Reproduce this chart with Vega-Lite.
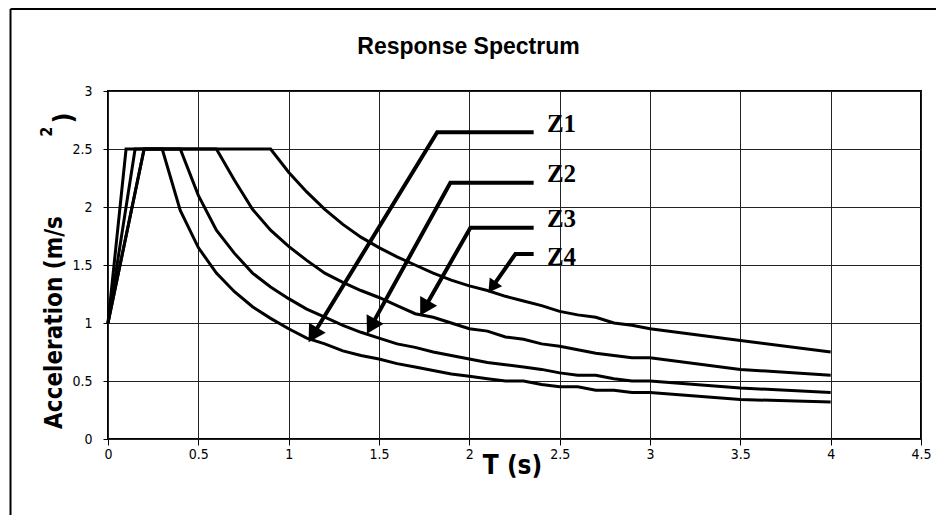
{
  "$schema": "https://vega.github.io/schema/vega-lite/v6.json",
  "autosize": {"type": "none"},
  "width": 813,
  "height": 348,
  "padding": {"left": 108, "top": 91, "right": 15, "bottom": 76},
  "background": "white",
  "title": {
    "text": "Response Spectrum",
    "font": "Liberation Sans",
    "fontSize": 23,
    "fontWeight": "bold",
    "color": "#000",
    "anchor": "middle",
    "frame": "group",
    "dx": -46,
    "dy": 69,
    "offset": 0,
    "baseline": "alphabetic"
  },
  "config": {
    "view": {"stroke": "#000", "strokeWidth": 2},
    "axis": {
      "labelFont": "Liberation Sans Narrow, Arial Narrow, DejaVu Sans Condensed, sans-serif",
      "labelFontSize": 14,
      "labelColor": "#000",
      "tickColor": "#000",
      "gridColor": "#222",
      "gridWidth": 1,
      "domain": false,
      "titleFont": "Liberation Sans Narrow, Arial Narrow, DejaVu Sans Condensed, sans-serif",
      "titleFontWeight": "bold",
      "titleColor": "#000"
    }
  },
  "datasets": {
    "curves": [
      {"z": "Z1", "T": 0, "A": 1}, {"z": "Z1", "T": 0.1, "A": 2.5}, {"z": "Z1", "T": 0.3, "A": 2.5},
      {"z": "Z1", "T": 0.4, "A": 1.97}, {"z": "Z1", "T": 0.5, "A": 1.65}, {"z": "Z1", "T": 0.6, "A": 1.43},
      {"z": "Z1", "T": 0.7, "A": 1.27}, {"z": "Z1", "T": 0.8, "A": 1.14}, {"z": "Z1", "T": 0.9, "A": 1.04},
      {"z": "Z1", "T": 1.0, "A": 0.95}, {"z": "Z1", "T": 1.1, "A": 0.87}, {"z": "Z1", "T": 1.2, "A": 0.82},
      {"z": "Z1", "T": 1.3, "A": 0.76}, {"z": "Z1", "T": 1.4, "A": 0.72}, {"z": "Z1", "T": 1.5, "A": 0.69},
      {"z": "Z1", "T": 1.6, "A": 0.65}, {"z": "Z1", "T": 1.7, "A": 0.62}, {"z": "Z1", "T": 1.8, "A": 0.59},
      {"z": "Z1", "T": 1.9, "A": 0.56}, {"z": "Z1", "T": 2.0, "A": 0.54}, {"z": "Z1", "T": 2.1, "A": 0.52},
      {"z": "Z1", "T": 2.2, "A": 0.5}, {"z": "Z1", "T": 2.3, "A": 0.5}, {"z": "Z1", "T": 2.4, "A": 0.47},
      {"z": "Z1", "T": 2.5, "A": 0.45}, {"z": "Z1", "T": 2.6, "A": 0.45}, {"z": "Z1", "T": 2.7, "A": 0.42},
      {"z": "Z1", "T": 2.8, "A": 0.42}, {"z": "Z1", "T": 2.9, "A": 0.4}, {"z": "Z1", "T": 3.0, "A": 0.4},
      {"z": "Z1", "T": 3.5, "A": 0.34}, {"z": "Z1", "T": 4.0, "A": 0.32},

      {"z": "Z2", "T": 0, "A": 1}, {"z": "Z2", "T": 0.15, "A": 2.5}, {"z": "Z2", "T": 0.4, "A": 2.5},
      {"z": "Z2", "T": 0.5, "A": 2.1}, {"z": "Z2", "T": 0.6, "A": 1.8}, {"z": "Z2", "T": 0.7, "A": 1.6},
      {"z": "Z2", "T": 0.8, "A": 1.43}, {"z": "Z2", "T": 0.9, "A": 1.31}, {"z": "Z2", "T": 1.0, "A": 1.21},
      {"z": "Z2", "T": 1.1, "A": 1.12}, {"z": "Z2", "T": 1.2, "A": 1.05}, {"z": "Z2", "T": 1.3, "A": 0.98},
      {"z": "Z2", "T": 1.4, "A": 0.92}, {"z": "Z2", "T": 1.5, "A": 0.87}, {"z": "Z2", "T": 1.6, "A": 0.82},
      {"z": "Z2", "T": 1.7, "A": 0.79}, {"z": "Z2", "T": 1.8, "A": 0.75}, {"z": "Z2", "T": 1.9, "A": 0.72},
      {"z": "Z2", "T": 2.0, "A": 0.69}, {"z": "Z2", "T": 2.1, "A": 0.66}, {"z": "Z2", "T": 2.2, "A": 0.64},
      {"z": "Z2", "T": 2.3, "A": 0.62}, {"z": "Z2", "T": 2.4, "A": 0.6}, {"z": "Z2", "T": 2.5, "A": 0.57},
      {"z": "Z2", "T": 2.6, "A": 0.55}, {"z": "Z2", "T": 2.7, "A": 0.55}, {"z": "Z2", "T": 2.8, "A": 0.52},
      {"z": "Z2", "T": 2.9, "A": 0.5}, {"z": "Z2", "T": 3.0, "A": 0.5}, {"z": "Z2", "T": 3.5, "A": 0.44},
      {"z": "Z2", "T": 4.0, "A": 0.4},

      {"z": "Z3", "T": 0, "A": 1}, {"z": "Z3", "T": 0.2, "A": 2.5}, {"z": "Z3", "T": 0.6, "A": 2.5},
      {"z": "Z3", "T": 0.7, "A": 2.23}, {"z": "Z3", "T": 0.8, "A": 1.98}, {"z": "Z3", "T": 0.9, "A": 1.8},
      {"z": "Z3", "T": 1.0, "A": 1.66}, {"z": "Z3", "T": 1.1, "A": 1.54}, {"z": "Z3", "T": 1.2, "A": 1.43},
      {"z": "Z3", "T": 1.3, "A": 1.35}, {"z": "Z3", "T": 1.4, "A": 1.28}, {"z": "Z3", "T": 1.5, "A": 1.22},
      {"z": "Z3", "T": 1.6, "A": 1.15}, {"z": "Z3", "T": 1.7, "A": 1.08}, {"z": "Z3", "T": 1.8, "A": 1.05},
      {"z": "Z3", "T": 1.9, "A": 1.0}, {"z": "Z3", "T": 2.0, "A": 0.95}, {"z": "Z3", "T": 2.1, "A": 0.93},
      {"z": "Z3", "T": 2.2, "A": 0.88}, {"z": "Z3", "T": 2.3, "A": 0.86}, {"z": "Z3", "T": 2.4, "A": 0.82},
      {"z": "Z3", "T": 2.5, "A": 0.8}, {"z": "Z3", "T": 2.6, "A": 0.77}, {"z": "Z3", "T": 2.7, "A": 0.74},
      {"z": "Z3", "T": 2.8, "A": 0.72}, {"z": "Z3", "T": 2.9, "A": 0.7}, {"z": "Z3", "T": 3.0, "A": 0.7},
      {"z": "Z3", "T": 3.5, "A": 0.6}, {"z": "Z3", "T": 4.0, "A": 0.55},

      {"z": "Z4", "T": 0, "A": 1}, {"z": "Z4", "T": 0.2, "A": 2.5}, {"z": "Z4", "T": 0.9, "A": 2.5},
      {"z": "Z4", "T": 1.0, "A": 2.3}, {"z": "Z4", "T": 1.1, "A": 2.13}, {"z": "Z4", "T": 1.2, "A": 1.98},
      {"z": "Z4", "T": 1.3, "A": 1.85}, {"z": "Z4", "T": 1.4, "A": 1.74}, {"z": "Z4", "T": 1.5, "A": 1.65},
      {"z": "Z4", "T": 1.6, "A": 1.57}, {"z": "Z4", "T": 1.7, "A": 1.5}, {"z": "Z4", "T": 1.8, "A": 1.43},
      {"z": "Z4", "T": 1.9, "A": 1.37}, {"z": "Z4", "T": 2.0, "A": 1.32}, {"z": "Z4", "T": 2.1, "A": 1.28},
      {"z": "Z4", "T": 2.2, "A": 1.23}, {"z": "Z4", "T": 2.3, "A": 1.19}, {"z": "Z4", "T": 2.4, "A": 1.15},
      {"z": "Z4", "T": 2.5, "A": 1.1}, {"z": "Z4", "T": 2.6, "A": 1.07}, {"z": "Z4", "T": 2.7, "A": 1.05},
      {"z": "Z4", "T": 2.8, "A": 1.0}, {"z": "Z4", "T": 2.9, "A": 0.98}, {"z": "Z4", "T": 3.0, "A": 0.95},
      {"z": "Z4", "T": 3.5, "A": 0.85}, {"z": "Z4", "T": 4.0, "A": 0.75}
    ],
    "leaders": [
      {"z": "Z1", "o": 1, "T": 2.356, "A": 2.644}, {"z": "Z1", "o": 2, "T": 1.822, "A": 2.644}, {"z": "Z1", "o": 3, "T": 1.1345, "A": 0.897},
      {"z": "Z2", "o": 1, "T": 2.356, "A": 2.209}, {"z": "Z2", "o": 2, "T": 1.895, "A": 2.209}, {"z": "Z2", "o": 3, "T": 1.456, "A": 0.971},
      {"z": "Z3", "o": 1, "T": 2.356, "A": 1.822}, {"z": "Z3", "o": 2, "T": 2.006, "A": 1.822}, {"z": "Z3", "o": 3, "T": 1.7515, "A": 1.128},
      {"z": "Z4", "o": 1, "T": 2.356, "A": 1.595}, {"z": "Z4", "o": 2, "T": 2.255, "A": 1.595}, {"z": "Z4", "o": 3, "T": 2.1265, "A": 1.309}
    ],
    "heads": [
      {"z": "Z1", "T": 1.1345, "A": 0.897, "ang": 211.5, "s": 380},
      {"z": "Z2", "T": 1.456, "A": 0.971, "ang": 209, "s": 380},
      {"z": "Z3", "T": 1.7515, "A": 1.128, "ang": 210, "s": 380},
      {"z": "Z4", "T": 2.1265, "A": 1.309, "ang": 215, "s": 230}
    ],
    "labels": [
      {"t": "Z1", "T": 2.51, "A": 2.718},
      {"t": "Z2", "T": 2.51, "A": 2.287},
      {"t": "Z3", "T": 2.51, "A": 1.898},
      {"t": "Z4", "T": 2.51, "A": 1.565}
    ],
    "sup": [
      {"t": "2", "T": -0.34, "A": 2.648, "fs": 16},
      {"t": ")", "T": -0.246, "A": 2.767, "fs": 26}
    ],
    "frame": [
      {"T": -0.5396, "T2": -0.5396, "A": 3.707, "A2": -0.9},
      {"T": -0.5396, "T2": 5.2, "A": 3.707, "A2": 3.707}
    ]
  },
  "encoding": {
    "x": {
      "field": "T", "type": "quantitative",
      "scale": {"domain": [0, 4.5], "nice": false, "zero": false},
      "axis": {
        "values": [0, 0.5, 1, 1.5, 2, 2.5, 3, 3.5, 4, 4.5],
        "format": "~g",
        "grid": true,
        "tickSize": 6,
        "labelPadding": 2,
        "labelFlush": false,
        "labelOverlap": false,
        "title": "T (s)",
        "titleFontSize": 26,
        "titleX": 404,
        "titleY": 26,
        "titleAlign": "center",
        "titleBaseline": "middle"
      }
    },
    "y": {
      "field": "A", "type": "quantitative",
      "scale": {"domain": [0, 3], "nice": false, "zero": false},
      "axis": {
        "values": [0, 0.5, 1, 1.5, 2, 2.5, 3],
        "format": "~g",
        "grid": true,
        "tickSize": 5,
        "labelPadding": 11,
        "labelFlush": false,
        "labelOverlap": false,
        "title": "Acceleration (m/s",
        "titleFontSize": 24,
        "titleAngle": 270,
        "titleX": -54,
        "titleY": 231,
        "titleAlign": "center",
        "titleBaseline": "middle"
      }
    }
  },
  "layer": [
    {
      "data": {"name": "curves"},
      "mark": {"type": "line", "color": "#000", "strokeWidth": 3, "strokeJoin": "miter"},
      "encoding": {
        "detail": {"field": "z"},
        "order": {"field": "T", "type": "quantitative"}
      }
    },
    {
      "data": {"name": "leaders"},
      "mark": {"type": "line", "color": "#000", "strokeWidth": 4, "strokeJoin": "miter"},
      "encoding": {
        "detail": {"field": "z"},
        "order": {"field": "o", "type": "quantitative"}
      }
    },
    {
      "data": {"name": "heads"},
      "mark": {"type": "point", "shape": "triangle-up", "filled": true, "color": "#000", "opacity": 1},
      "encoding": {
        "angle": {"field": "ang", "type": "quantitative", "scale": null},
        "size": {"field": "s", "type": "quantitative", "scale": null}
      }
    },
    {
      "data": {"name": "labels"},
      "mark": {"type": "text", "font": "Liberation Serif", "fontWeight": "bold", "fontSize": 25, "color": "#000", "align": "center", "baseline": "middle"},
      "encoding": {
        "text": {"field": "t"}
      }
    },
    {
      "data": {"name": "sup"},
      "mark": {"type": "text", "font": "Liberation Sans Narrow, Arial Narrow, DejaVu Sans Condensed, sans-serif", "fontWeight": "bold", "color": "#000", "align": "center", "baseline": "middle", "angle": 270},
      "encoding": {
        "text": {"field": "t"},
        "size": {"field": "fs", "type": "quantitative", "scale": null}
      }
    },
    {
      "data": {"name": "frame"},
      "mark": {"type": "rule", "color": "#000", "strokeWidth": 2},
      "encoding": {
        "x2": {"field": "T2"},
        "y2": {"field": "A2"}
      }
    }
  ]
}
